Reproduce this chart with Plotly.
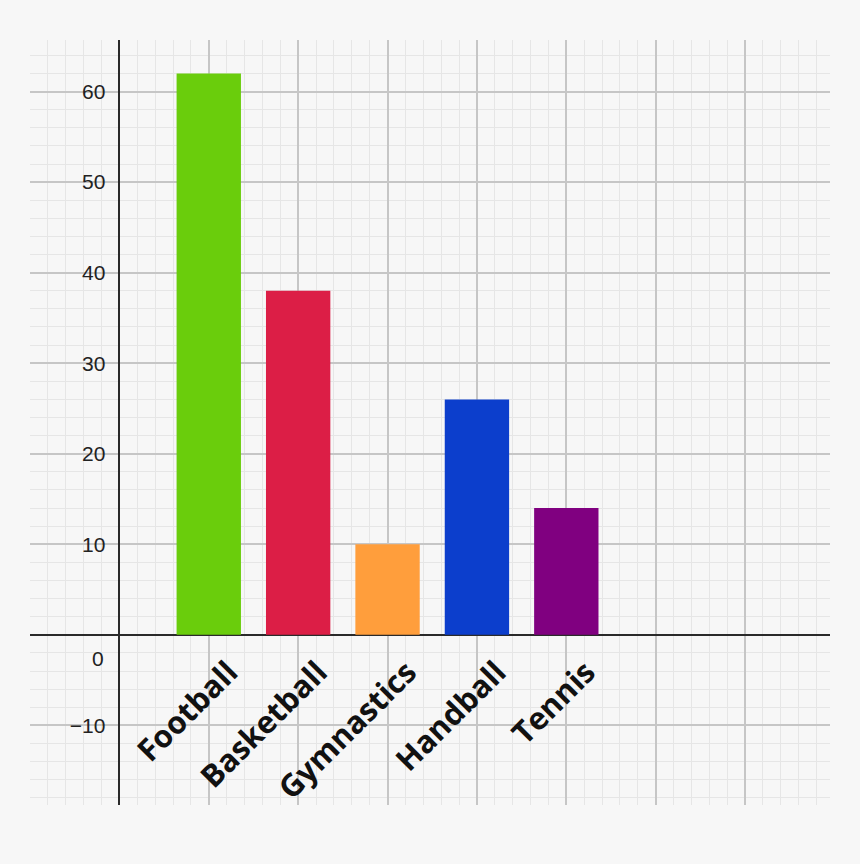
import plotly.graph_objects as go

categories = ["Football", "Basketball", "Gymnastics", "Handball", "Tennis"]
values = [62, 38, 10, 26, 14]
colors = ["#6acd0c", "#dc1e46", "#ff9e3c", "#0c3ecc", "#800080"]
ytick_vals = [-10, 0, 10, 20, 30, 40, 50, 60]
ytick_text = ["\u221210", "", "10", "20", "30", "40", "50", "60"]

positions = list(range(1, len(categories) + 1))
xr = [-1.0, 7.95]
yr = [-18.8, 65.7]

fig = go.Figure()
fig.add_trace(go.Bar(x=positions, y=values, marker=dict(color=colors, line=dict(width=0)),
                     width=0.72, xaxis="x", yaxis="y", hoverinfo="skip"))
fig.add_trace(go.Scatter(x=positions, y=[0] * len(positions), mode="none",
                         xaxis="x2", yaxis="y", hoverinfo="skip", showlegend=False))

major = "#c6c6c6"
minor = "#e6e6e6"
tickfont = dict(family="Liberation Sans", size=21, color="#222")
fig.update_layout(
    width=860, height=864,
    margin=dict(l=30, r=30, t=40, b=59),
    paper_bgcolor="#f7f7f7", plot_bgcolor="#f7f7f7",
    showlegend=False,
    xaxis=dict(range=xr, tick0=0, dtick=1, showticklabels=False, ticks="",
               showgrid=True, gridcolor=major, gridwidth=1.5,
               minor=dict(tick0=0, dtick=0.2, showgrid=True, gridcolor=minor, gridwidth=1),
               zeroline=True, zerolinecolor="#2a2a2a", zerolinewidth=2),
    xaxis2=dict(range=xr, overlaying="x", anchor="free",
                position=(0 - yr[0]) / (yr[1] - yr[0]),
                tickmode="array", tickvals=positions, ticktext=categories,
                tickangle=-45, showgrid=False, zeroline=False, showline=False, ticks="",
                tickfont=dict(family="Open Sans", size=31, color="#111", weight=700),
                ticklabelstandoff=12, ticklabelshift=20),
    yaxis=dict(range=yr, tickmode="array", tickvals=ytick_vals, ticktext=ytick_text,
               anchor="free", position=(0 - xr[0]) / (xr[1] - xr[0]),
               showgrid=True, gridcolor=major, gridwidth=1.5,
               minor=dict(tickmode="linear", tick0=0, dtick=2, showgrid=True, gridcolor=minor, gridwidth=1),
               zeroline=True, zerolinecolor="#2a2a2a", zerolinewidth=2,
               ticks="", ticklabelstandoff=14, tickfont=tickfont),
    annotations=[dict(x=0, y=0, xref="x", yref="y", text="0", showarrow=False,
                      xanchor="right", yanchor="top", xshift=-13, yshift=-10,
                      font=tickfont)],
)

fig.write_html("out.html", config={"displayModeBar": False},
               post_script="document.body.style.margin='0';document.body.style.background='#f7f7f7';")
